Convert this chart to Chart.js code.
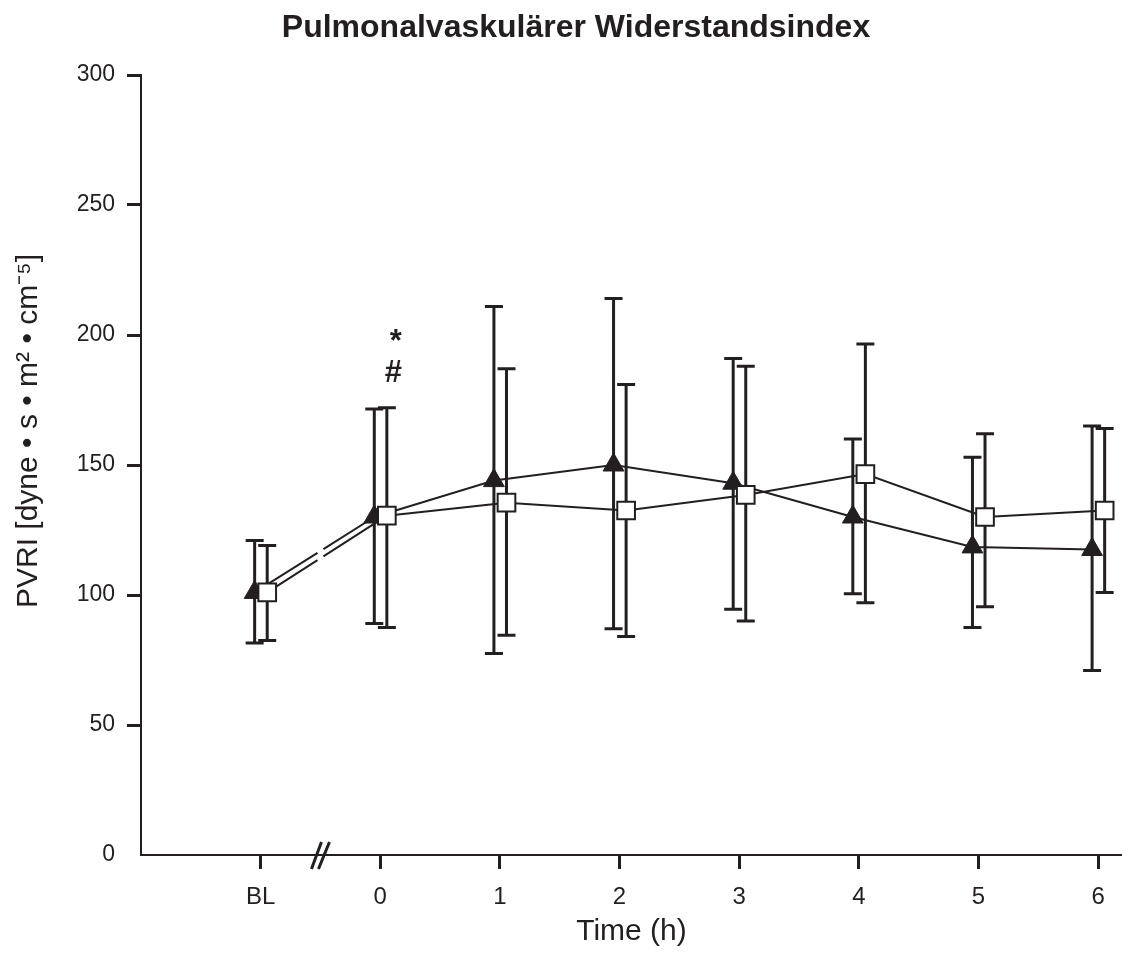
<!DOCTYPE html>
<html>
<head>
<meta charset="utf-8">
<script src="https://cdn.jsdelivr.net/npm/chart.js@4.4.1/dist/chart.umd.min.js"></script>
<style>
  body { margin: 0; background: #fff; }
  #wrap { width: 1122px; height: 972px; }
</style>
</head>
<body>
<div id="wrap"><canvas id="myChart" width="1122" height="972"></canvas></div>
<script>
/******** data */
const timePoints = [-1, 0, 1, 2, 3, 4, 5, 6];
const timeLabels = ["BL", "0", "1", "2", "3", "4", "5", "6"];
const yTicks = [0, 50, 100, 150, 200, 250, 300];

// filled triangles
const triMean = [101, 130, 144, 150, 143, 130, 118.5, 117.5];
const triUpper = [121, 171.5, 211, 214, 191, 160, 153, 165];
const triLower = [81.5, 89, 77.5, 87, 94.5, 100.5, 87.5, 71];

// open squares
const sqMean = [101, 130.5, 135.5, 132.5, 138.5, 146.5, 130, 132.5];
const sqUpper = [119, 172, 187, 181, 188, 196.5, 162, 164];
const sqLower = [82.5, 87.5, 84.5, 84, 90, 97, 95.5, 101];

// significance marks above hour 0
const sigMarks = [
  { x: 0.11, y: 182, text: "#" },
  { x: 0.13, y: 194, text: "*" },
];
const breakAt = -0.5;

/******** look */
const ink = "#231f20";
const fam = "'Liberation Sans', Arial, sans-serif";
Chart.defaults.font.family = fam;
Chart.defaults.color = ink;

const dashAtBreak = (ctx) => {
  if (ctx.p0DataIndex !== 0) return undefined;
  const p0 = ctx.p0, p1 = ctx.p1;
  const len = Math.hypot(p1.x - p0.x, p1.y - p0.y);
  const bx = ctx.chart.scales.x.getPixelForValue(breakAt);
  const t = (bx - p0.x) / (p1.x - p0.x);
  return [t * len - 3.5, 7, len];
};

/******** error bars, drawn under the lines */
const errorBars = {
  id: "errorBars",
  beforeDatasetsDraw(chart) {
    const c = chart.ctx;
    const y = chart.scales.y;
    c.save();
    c.strokeStyle = ink;
    c.lineWidth = 3;
    chart.data.datasets.forEach((ds, di) => {
      const meta = chart.getDatasetMeta(di);
      meta.data.forEach((pt, i) => {
        const top = y.getPixelForValue(ds.upper[i]);
        const bot = y.getPixelForValue(ds.lower[i]);
        c.beginPath();
        c.moveTo(pt.x, top);
        c.lineTo(pt.x, bot);
        c.moveTo(pt.x - 9, top);
        c.lineTo(pt.x + 9, top);
        c.moveTo(pt.x - 9, bot);
        c.lineTo(pt.x + 9, bot);
        c.stroke();
      });
    });
    c.restore();
  },
};

/******** title, y label, axis break, marks */
const extras = {
  id: "extras",
  afterDraw(chart) {
    const c = chart.ctx;
    const xs = chart.scales.x, ys = chart.scales.y;
    c.save();
    c.fillStyle = ink;

    c.font = "bold 32px " + fam;
    c.textAlign = "center";
    c.textBaseline = "alphabetic";
    c.fillText("Pulmonalvaskulärer Widerstandsindex", 576, 37);

    c.save();
    c.translate(29, 431);
    c.rotate(-Math.PI / 2);
    c.font = "30px " + fam;
    c.textBaseline = "middle";
    c.fillText("PVRI [dyne • s • m² • cm⁻⁵]", 0, 0);
    c.restore();

    // axis break //
    const bx = xs.getPixelForValue(breakAt);
    const by = chart.chartArea.bottom;
    c.strokeStyle = ink;
    c.lineWidth = 3;
    c.beginPath();
    c.moveTo(bx - 9, by + 14);
    c.lineTo(bx + 1, by - 13);
    c.moveTo(bx - 2, by + 14);
    c.lineTo(bx + 9, by - 13);
    c.stroke();

    c.font = "bold 31px " + fam;
    c.textAlign = "center";
    sigMarks.forEach((m) => {
      c.fillText(m.text, xs.getPixelForValue(m.x), ys.getPixelForValue(m.y));
    });
    c.restore();
  },
};

const ctx = document.getElementById("myChart");
new Chart(ctx, {
  type: "line",
  data: {
    datasets: [
      {
        label: "squares",
        data: timePoints.map((t, i) => ({ x: t + 0.055, y: sqMean[i] })),
        upper: sqUpper,
        lower: sqLower,
        order: 0,
        borderColor: ink,
        borderWidth: 2,
        pointStyle: "rect",
        pointRadius: 12.5,
        pointBackgroundColor: "#ffffff",
        pointBorderColor: ink,
        pointBorderWidth: 2,
        tension: 0,
        clip: false,
        segment: { borderDash: dashAtBreak },
      },
      {
        label: "triangles",
        data: timePoints.map((t, i) => ({ x: t - 0.05, y: triMean[i] })),
        upper: triUpper,
        lower: triLower,
        order: 1,
        borderColor: ink,
        borderWidth: 2,
        pointStyle: "triangle",
        pointRadius: 12,
        pointBackgroundColor: ink,
        pointBorderColor: ink,
        pointBorderWidth: 1,
        tension: 0,
        clip: false,
        segment: { borderDash: dashAtBreak },
      },
    ],
  },
  options: {
    responsive: false,
    animation: false,
    layout: { autoPadding: false, padding: { top: 75, left: 0, right: 0, bottom: 0 } },
    plugins: {
      legend: { display: false },
      tooltip: { enabled: false },
      title: { display: false },
    },
    scales: {
      x: {
        type: "linear",
        min: -2,
        max: 6.2,
        afterFit: (s) => { s.height = 117; s.paddingLeft = 0; s.paddingRight = 0; },
        afterBuildTicks: (s) => { s.ticks = timePoints.map((v) => ({ value: v })); },
        ticks: {
          callback: (v) => timeLabels[timePoints.indexOf(v)],
          font: { size: 24 },
          color: ink,
          padding: 14,
          maxRotation: 0,
          autoSkip: false,
        },
        grid: { drawOnChartArea: false, tickLength: 14, tickWidth: 3, tickColor: ink },
        border: { color: ink, width: 2 },
        title: { display: true, text: "Time (h)", font: { size: 30 }, color: ink, padding: { top: 0, bottom: 22 } },
      },
      y: {
        min: 0,
        max: 300,
        afterFit: (s) => { s.width = 141; s.paddingTop = 0; s.paddingBottom = 0; },
        afterBuildTicks: (s) => { s.ticks = yTicks.map((v) => ({ value: v })); },
        ticks: { font: { size: 23 }, color: ink, padding: 12 },
        grid: {
          drawOnChartArea: false,
          tickLength: 14,
          tickWidth: 3,
          tickColor: (c) => (c.tick && c.tick.value === 0 ? "rgba(0,0,0,0)" : ink),
        },
        border: { color: ink, width: 2 },
      },
    },
  },
  plugins: [errorBars, extras],
});
</script>
</body>
</html>
